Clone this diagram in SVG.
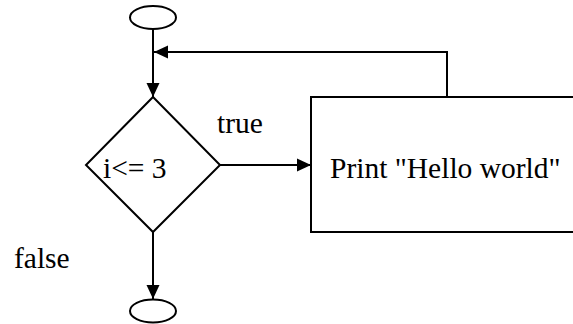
<svg xmlns="http://www.w3.org/2000/svg" width="573" height="324" viewBox="0 0 573 324">
<style>
.s{fill:#fff;stroke:#000;stroke-width:2}
.l{fill:none;stroke:#000;stroke-width:2}
</style>
<defs>
<marker id="a" markerWidth="14" markerHeight="14" refX="14" refY="7" orient="auto" markerUnits="userSpaceOnUse">
<path d="M0,0.5 L14,7 L0,13.5 Z" fill="#000"/>
</marker>
</defs>
<rect width="573" height="324" fill="#fff"/>
<g font-family="Liberation Serif" font-size="29.5" fill="#000">
<g id="connectors">
<line class="l" x1="153" y1="29" x2="153" y2="97" marker-end="url(#a)"/>
<polyline class="l" points="447,97 447,52 154,52" marker-end="url(#a)"/>
<line class="l" x1="220" y1="165" x2="311" y2="165" marker-end="url(#a)"/>
<line class="l" x1="153" y1="232" x2="153" y2="299" marker-end="url(#a)"/>
<text x="217" y="133">true</text>
<text x="14" y="268">false</text>
</g>
<g id="start"><ellipse class="s" cx="153" cy="17.5" rx="23" ry="11.5"/></g>
<g id="decision">
<polygon class="s" points="153,97 220,165 153,232 86,165"/>
<text x="103" y="178">i&lt;= 3</text>
</g>
<g id="print">
<rect class="s" x="311" y="97" width="272" height="135"/>
<text x="330" y="178">Print "Hello world"</text>
</g>
<g id="end"><ellipse class="s" cx="153" cy="311" rx="23" ry="11.5"/></g>
</g>
</svg>
